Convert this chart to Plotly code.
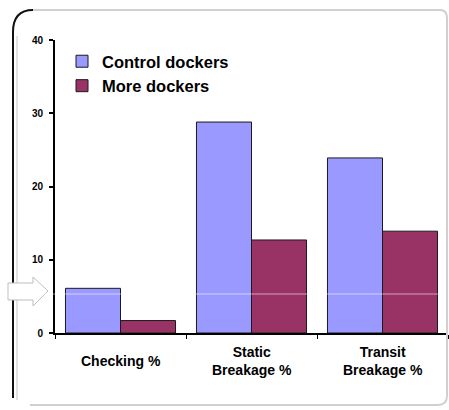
import plotly.graph_objects as go

categories = ["Checking %", "Static<br>Breakage %", "Transit<br>Breakage %"]
control_dockers = [6.1, 28.8, 23.9]
more_dockers = [1.7, 12.7, 13.9]
y_ticks = [0, 10, 20, 30, 40]

W, H = 449, 410
L, R, T, B = 55, 448, 40, 333


def px(x):
    return (x - L) / (R - L)


def py(y):
    return (B - y) / (B - T)


fig = go.Figure()
fig.add_bar(name="Control dockers", x=categories, y=control_dockers,
            marker=dict(color="#9999FF", line=dict(color="#1a1a1a", width=1)))
fig.add_bar(name="More dockers", x=categories, y=more_dockers,
            marker=dict(color="#993366", line=dict(color="#1a1a1a", width=1)))


def path(points, close=False):
    s = "M" + " L".join(f"{px(a):.5f},{py(b):.5f}" for a, b in points)
    return s + (" Z" if close else "")


shapes = []
# frame: top, right, bottom (light gray)
shapes.append(dict(type="path", xref="paper", yref="paper",
                   path=f"M{px(33):.5f},{py(10):.5f} L{px(440):.5f},{py(10):.5f} Q{px(447):.5f},{py(10):.5f} {px(447):.5f},{py(18):.5f} L{px(447):.5f},{py(396):.5f} Q{px(447):.5f},{py(405):.5f} {px(438):.5f},{py(405):.5f} L{px(30):.5f},{py(405):.5f}",
                   line=dict(color="#d0d0d0", width=2)))
# left dark edge with rounded corner
shapes.append(dict(type="path", xref="paper", yref="paper",
                   path=f"M{px(13):.5f},{py(398):.5f} L{px(13):.5f},{py(32):.5f} Q{px(13):.5f},{py(10):.5f} {px(33):.5f},{py(10):.5f}",
                   line=dict(color="#111111", width=2)))
shapes.append(dict(type="line", xref="paper", yref="paper",
                   x0=px(17), x1=px(17), y0=py(36), y1=py(400),
                   line=dict(color="#c8c8c8", width=1)))
# arrow on left
shapes.append(dict(type="path", xref="paper", yref="paper",
                   path=path([(8, 283), (33, 283), (33, 277), (48, 291), (33, 306), (33, 300), (8, 300)], close=True),
                   fillcolor="white", line=dict(color="#bdbdbd", width=1)))
# faint horizontal line
shapes.append(dict(type="line", xref="paper", yref="paper",
                   x0=px(0), x1=px(441), y0=py(294), y1=py(294),
                   line=dict(color="rgba(255,255,255,0.55)", width=1)))

annotations = [
    dict(x=c, y=py(361), xref="x", yref="paper", text=f"<b>{c}</b>",
         showarrow=False, xanchor="center", yanchor="middle",
         font=dict(size=14, color="#000000"))
    for c in categories
]

fig.update_layout(
    width=W, height=H,
    margin=dict(l=L, r=W - R, t=T, b=H - B),
    paper_bgcolor="white", plot_bgcolor="white",
    barmode="group", bargap=0.16, bargroupgap=0,
    font=dict(family="Arial, Liberation Sans, sans-serif", color="#000000"),
    showlegend=True,
    legend=dict(x=px(62), y=py(44), xanchor="left", yanchor="top",
                bgcolor="rgba(0,0,0,0)",
                font=dict(size=16.5, color="#000000", weight="bold"),
                tracegroupgap=0, itemwidth=30),
    xaxis=dict(showline=True, linecolor="#000000", linewidth=2,
               ticks="outside", tickson="boundaries", ticklen=4, tickwidth=1,
               tickcolor="#000000", showgrid=False, showticklabels=False),
    yaxis=dict(range=[0, 40], tickvals=y_ticks, showline=True, linecolor="#000000",
               linewidth=2, ticks="outside", ticklen=4, tickwidth=2,
               tickcolor="#000000", showgrid=False, zeroline=False,
               ticklabelstandoff=4,
               tickfont=dict(size=10, weight="bold", color="#000000")),
    shapes=shapes,
    annotations=annotations,
)

fig.write_html("out.html")
